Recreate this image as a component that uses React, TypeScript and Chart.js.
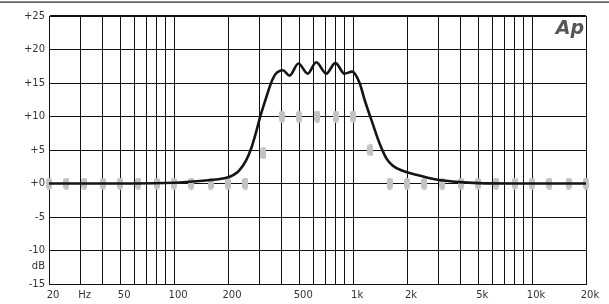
import React, { useEffect, useRef } from "react";
import { Chart, registerables } from "chart.js";

Chart.register(...registerables);

// Response curve (Hz, dB)
const curveFreqs = [20, 60, 100, 139, 170, 196, 215, 230, 253, 270, 288, 300, 324, 348, 368, 405, 441, 495, 558, 622, 708, 796, 895, 989, 1087, 1159, 1283, 1404, 1531, 1660, 1888, 2250, 2911, 3926, 5000, 8000, 20000];
const curveDb = [0, 0, 0.12, 0.37, 0.6, 0.85, 1.3, 1.9, 3.5, 5.3, 7.8, 9.6, 12.5, 15, 16.3, 16.9, 16.1, 17.9, 16.4, 18.1, 16.4, 18.0, 16.4, 16.7, 15, 12.5, 9, 6, 3.8, 2.7, 1.9, 1.3, 0.6, 0.2, 0.05, 0, 0];

// 1/3-octave slider settings
const bandFreqs = [20, 25, 31.5, 40, 50, 63, 80, 100, 125, 160, 200, 250, 315, 400, 500, 630, 800, 1000, 1250, 1600, 2000, 2500, 3150, 4000, 5000, 6300, 8000, 10000, 12500, 16000, 20000];
const bandDb = [0, 0, 0, 0, 0, 0, 0, 0, 0, 0, 0, 0, 4.5, 10, 10, 10, 10, 10, 5, 0, 0, 0, 0, 0, 0, 0, 0, 0, 0, 0, 0];

// Axis ticks
const xTickValues = [20, 30, 40, 50, 60, 70, 80, 90, 100, 200, 300, 400, 500, 600, 700, 800, 900, 1000, 2000, 3000, 4000, 5000, 6000, 7000, 8000, 9000, 10000, 20000];
const xTickLabels: Record<number, string> = { 20: "20", 30: "Hz", 50: "50", 100: "100", 200: "200", 500: "500", 1000: "1k", 2000: "2k", 5000: "5k", 10000: "10k", 20000: "20k" };
const yTickValues = [-15, -12.3, -10, -5, 0, 5, 10, 15, 20, 25];
const yTickLabels: Record<string, string> = { "-15": "-15", "-12.3": "dB", "-10": "-10", "-5": "-5", "0": "+0", "5": "+5", "10": "+10", "15": "+15", "20": "+20", "25": "+25" };

function makeMarker(): HTMLCanvasElement {
  const c = document.createElement("canvas");
  c.width = 6;
  c.height = 12;
  const ctx = c.getContext("2d")!;
  ctx.fillStyle = "#c2c2c2";
  ctx.beginPath();
  (ctx as any).roundRect(0, 0, 6, 12, 3);
  ctx.fill();
  return c;
}

const decorPlugin = {
  id: "decor",
  afterDraw(chart: any) {
    const ctx = chart.ctx;
    const area = chart.chartArea;
    ctx.save();
    ctx.fillStyle = "#222";
    ctx.fillRect(0, 1.5, chart.width, 1.2);
    ctx.fillStyle = "#555";
    ctx.font = "italic bold 19px 'DejaVu Sans'";
    ctx.textAlign = "right";
    ctx.textBaseline = "alphabetic";
    ctx.fillText("Ap", area.right - 2, area.top + 18);
    ctx.restore();
  },
};

export default function App() {
  const ref = useRef<HTMLCanvasElement>(null);
  useEffect(() => {
    const marker = makeMarker();
    const chart = new Chart(ref.current!, {
      type: "line",
      data: {
        datasets: [
          {
            data: curveFreqs.map((f, i) => ({ x: f, y: curveDb[i] })),
            borderColor: "#151515",
            borderWidth: 2.6,
            pointRadius: 0,
            cubicInterpolationMode: "monotone",
            fill: false,
          },
          {
            data: bandFreqs.map((f, i) => ({ x: f, y: bandDb[i] })),
            showLine: false,
            pointStyle: marker as any,
            pointRadius: 6,
            clip: false as any,
          },
        ],
      },
      options: {
        responsive: false,
        devicePixelRatio: 1,
        animation: false,
        layout: { padding: { top: 16, right: 23, left: 0, bottom: 0 } },
        plugins: { legend: { display: false }, tooltip: { enabled: false } },
        scales: {
          x: {
            type: "logarithmic",
            min: 20,
            max: 20000,
            afterBuildTicks: (s: any) => {
              s.ticks = xTickValues.map((v) => ({ value: v }));
            },
            afterFit: (s: any) => {
              s.height = 20;
            },
            ticks: {
              autoSkip: false,
              maxRotation: 0,
              padding: 5,
              labelOffset: 4,
              color: "#333",
              font: { family: "DejaVu Sans", size: 10 },
              callback: (v: any) => xTickLabels[Number(v)] ?? "",
            },
            grid: { color: "#111", lineWidth: 1, drawTicks: false },
            border: { display: true, color: "#111", width: 1 },
          },
          y: {
            min: -15,
            max: 25,
            afterBuildTicks: (s: any) => {
              s.ticks = yTickValues.map((v) => ({ value: v }));
            },
            afterFit: (s: any) => {
              s.width = 49;
            },
            ticks: {
              autoSkip: false,
              padding: 4,
              color: "#333",
              font: { family: "DejaVu Sans", size: 10 },
              callback: (v: any) => yTickLabels[String(v)] ?? "",
            },
            grid: {
              color: (c: any) => (c.tick && c.tick.value === -12.3 ? "rgba(0,0,0,0)" : "#111"),
              lineWidth: (c: any) => (c.tick && c.tick.value === 25 ? 2 : 1),
              drawTicks: false,
            },
            border: { display: true, color: "#111", width: 1 },
          },
        },
      },
      plugins: [decorPlugin],
    });
    return () => chart.destroy();
  }, []);
  return (
    <div style={{ position: "absolute", left: 0, top: 0, width: 609, height: 304, background: "#fff" }}>
      <canvas ref={ref} width={609} height={304} />
    </div>
  );
}
